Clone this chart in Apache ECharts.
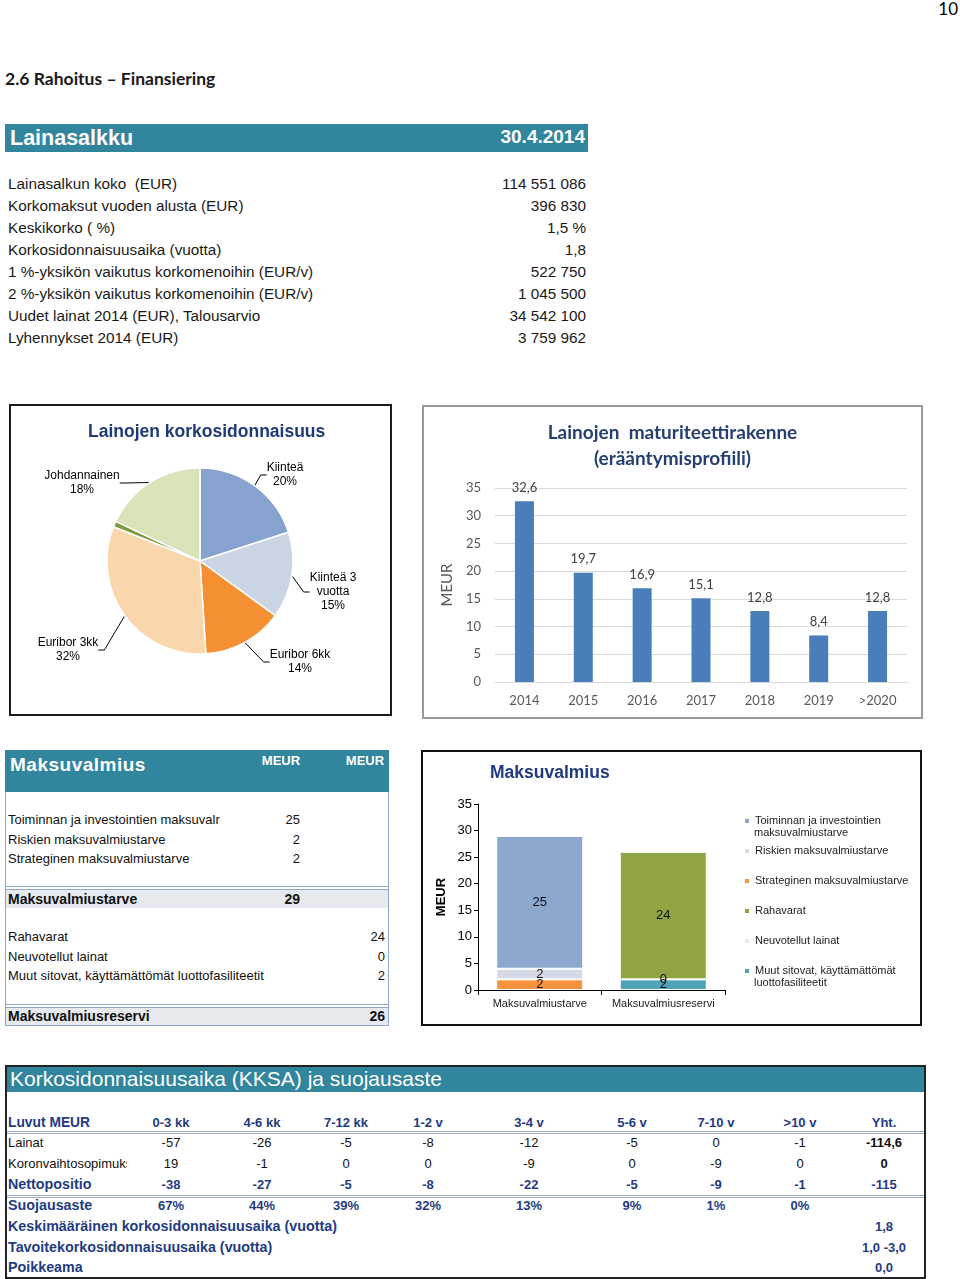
<!DOCTYPE html>
<html><head><meta charset="utf-8">
<script src="https://cdn.jsdelivr.net/npm/echarts@6/dist/echarts.min.js"></script>
<style>
body{margin:0;background:#fff;font-family:"Liberation Sans",Arial,sans-serif;color:#111;}
#page{position:relative;width:960px;height:1279px;overflow:hidden;background:#fff;}
.abs{position:absolute;white-space:pre;line-height:1.2;font-family:"Liberation Sans",Arial,sans-serif;}
</style></head><body><div id="page"></div>
<script>
// ---------- DATA ----------
const pageNumber = '10';
const sectionTitle = '2.6 Rahoitus – Finansiering';
const portfolioTitle = 'Lainasalkku';
const portfolioDate = '30.4.2014';
const portfolioLabels = ['Lainasalkun koko  (EUR)','Korkomaksut vuoden alusta (EUR)','Keskikorko ( %)','Korkosidonnaisuusaika (vuotta)','1 %-yksikön vaikutus korkomenoihin (EUR/v)','2 %-yksikön vaikutus korkomenoihin (EUR/v)','Uudet lainat 2014 (EUR), Talousarvio','Lyhennykset 2014 (EUR)'];
const portfolioValues = ['114 551 086','396 830','1,5 %','1,8','522 750','1 045 500','34 542 100','3 759 962'];

const pieTitle = 'Lainojen korkosidonnaisuus';
const pieNames = ['Kiinteä','Kiinteä 3 vuotta','Euribor 6kk','Euribor 3kk','','Johdannainen'];
const pieLabelNames = ['Kiinteä','Kiinteä 3\nvuotta','Euribor 6kk','Euribor 3kk','','Johdannainen'];
const pieValues = [20,15,14,32,1,18];

const maturityTitle = 'Lainojen  maturiteettirakenne\n(erääntymisprofiili)';
const maturityYears = ['2014','2015','2016','2017','2018','2019','>2020'];
const maturityValues = [32.6,19.7,16.9,15.1,12.8,8.4,12.8];

const liqTitle = 'Maksuvalmius';
const liqUnit = 'MEUR';
const liqNeedLabels = ['Toiminnan ja investointien maksuvalr','Riskien maksuvalmiustarve','Strateginen maksuvalmiustarve'];
const liqNeedValues = [25,2,2];
const liqNeedTotalLabel = 'Maksuvalmiustarve';
const liqNeedTotal = 29;
const liqResLabels = ['Rahavarat','Neuvotellut lainat','Muut sitovat, käyttämättömät luottofasiliteetit'];
const liqResValues = [24,0,2];
const liqResTotalLabel = 'Maksuvalmiusreservi';
const liqResTotal = 26;
const liqCategories = ['Maksuvalmiustarve','Maksuvalmiusreservi'];
const liqSeriesNames = ['Toiminnan ja investointien maksuvalmiustarve','Riskien maksuvalmiustarve','Strateginen maksuvalmiustarve','Rahavarat','Neuvotellut lainat','Muut sitovat, käyttämättömät luottofasiliteetit'];
const liqLegendLine1 = ['Toiminnan ja investointien','Riskien maksuvalmiustarve','Strateginen maksuvalmiustarve','Rahavarat','Neuvotellut lainat','Muut sitovat, käyttämättömät'];
const liqLegendLine2 = ['maksuvalmiustarve','','','','','luottofasiliteetit'];
const liqSeriesData = [[25,null],[2,null],[2,null],[null,24],[null,0],[null,2]];

const kksaTitle = 'Korkosidonnaisuusaika (KKSA) ja suojausaste';
const kksaHeaderLabel = 'Luvut MEUR';
const kksaColumns = ['0-3 kk','4-6 kk','7-12 kk','1-2 v','3-4 v','5-6 v','7-10 v','>10 v','Yht.'];
const kksaRowLabels = ['Lainat','Koronvaihtosopimukset','Nettopositio','Suojausaste'];
const kksaLainat = ['-57','-26','-5','-8','-12','-5','0','-1','-114,6'];
const kksaKoron = ['19','-1','0','0','-9','0','-9','0','0'];
const kksaNetto = ['-38','-27','-5','-8','-22','-5','-9','-1','-115'];
const kksaSuoj = ['67%','44%','39%','32%','13%','9%','1%','0%'];
const kksaSummaryLabels = ['Keskimääräinen korkosidonnaisuusaika (vuotta)','Tavoitekorkosidonnaisuusaika (vuotta)','Poikkeama'];
const kksaSummaryValues = ['1,8','1,0 -3,0','0,0'];

// ---------- LAYOUT HELPERS ----------
const TEAL = '#31859C';
const NAVY = '#1F3B83';
const page = document.getElementById('page');
function box(l,t,w,h,css){const d=document.createElement('div');d.className='abs';Object.assign(d.style,{left:l+'px',top:t+'px',width:w+'px',height:h+'px',boxSizing:'border-box'},css||{});page.appendChild(d);return d;}
function txt(x,y,s,css,align){const d=document.createElement('div');d.className='abs';d.textContent=s;Object.assign(d.style,css||{});d.style.top=y+'px';let tx='0';
  if(align==='right'){d.style.right=(960-x)+'px';} else if(align==='center'){d.style.left=x+'px';tx='-50%';} else {d.style.left=x+'px';}
  d.style.transform='translate('+tx+',-50%)';page.appendChild(d);return d;}
function inner(parent,w,h){const d=document.createElement('div');d.style.cssText='position:absolute;left:0;top:0;width:'+w+'px;height:'+h+'px;';parent.appendChild(d);return d;}

// page number & section title
txt(958,9,pageNumber,{fontFamily:'Lato',fontSize:'17px',color:'#000'},'right');
txt(5,78,sectionTitle,{fontFamily:'Lato',fontWeight:'bold',fontSize:'17.5px',color:'#1a1a1a'});

// ---------- LAINASALKKU ----------
box(5,124,583,28,{background:TEAL});
txt(10,139,portfolioTitle,{fontWeight:'bold',fontSize:'21.5px',color:'#fff'});
txt(585,137,portfolioDate,{fontWeight:'bold',fontSize:'19px',color:'#fff'},'right');
portfolioLabels.forEach((s,i)=>{
  const y=184+21.95*i;
  const d=txt(8,y,s,{fontSize:'15.3px',color:'#1a1a1a'});
  if(i===4||i===5){d.style.width='315px';d.style.overflow='hidden';}
  txt(586,y,portfolioValues[i],{fontSize:'15.3px',color:'#1a1a1a'},'right');
});

// ---------- PIE ----------
const pieBox = box(9,404,383,312,{border:'2px solid #1a1a1a'});
const pieDiv = inner(pieBox,379,308);
const pieColors = ['#86A2CE','#CAD5E4','#F49032','#F9D6AC','#7C9A3E','#D8E3B9'];
const pieLabelPos = [[274,69],[322,186],[289,256],[57,244],[0,0],[71,77]];
echarts.init(pieDiv).setOption({
  animation:false,
  title:{text:pieTitle,left:72,top:12,textStyle:{fontFamily:'Liberation Sans',fontWeight:'bold',fontSize:17.5,color:'#1F3A7A'}},
  series:[{type:'pie',center:[189,155],radius:93,startAngle:90,clockwise:true,
    data:pieValues.map((v,i)=>({value:v,name:pieNames[i],itemStyle:{color:pieColors[i]},label:{show:i!==4},labelLine:{show:i!==4}})),
    itemStyle:{borderColor:'#fff',borderWidth:1.5},
    label:{position:'outside',fontFamily:'Liberation Sans',fontSize:12,lineHeight:14,color:'#000',align:'center',
      formatter:p=>pieLabelNames[p.dataIndex]+'\n'+Math.round(p.percent)+'%'},
    labelLine:{show:true,length:10,length2:6,lineStyle:{color:'#000',width:1}},
    labelLayout:p=>{const q=pieLabelPos[p.dataIndex];return {x:q[0],y:q[1],align:'center',verticalAlign:'middle'};}
  }]
});

// ---------- MATURITY BARS ----------
const barBox = box(422,405,501,314,{border:'2px solid #9a9a9a'});
const barDiv = inner(barBox,497,310);
const comma = v=>String(v).replace('.',',');
echarts.init(barDiv).setOption({
  animation:false,
  title:{text:maturityTitle,left:'center',top:8,textStyle:{fontFamily:'Lato',fontWeight:'bold',fontSize:19,lineHeight:26,color:'#243F70'}},
  grid:{left:71,right:14,top:81,bottom:35},
  xAxis:{type:'category',data:maturityYears,axisLine:{lineStyle:{color:'#D9D9D9'}},axisTick:{show:false},
    axisLabel:{fontFamily:'Lato',fontSize:13,color:'#595959',margin:12}},
  yAxis:{type:'value',min:0,max:35,interval:5,name:'MEUR',nameLocation:'middle',nameGap:34,
    nameTextStyle:{fontFamily:'Lato',fontSize:15,color:'#595959'},
    axisLine:{show:false},axisTick:{show:false},splitLine:{lineStyle:{color:'#D9D9D9'}},
    axisLabel:{fontFamily:'Lato',fontSize:13,color:'#595959',margin:14}},
  series:[{type:'bar',data:maturityValues,barWidth:19,itemStyle:{color:'#4A7EBB'},
    label:{show:true,position:'top',distance:7,fontFamily:'Lato',fontSize:13,color:'#404040',formatter:p=>comma(p.value)}}]
});

// ---------- MAKSUVALMIUS TABLE ----------
box(5,750,384,276,{border:'1px solid #8FA8C8'});
box(5,750,384,42,{background:TEAL});
txt(10,765,liqTitle,{fontWeight:'bold',fontSize:'19px',color:'#fff',letterSpacing:'0.5px'});
txt(281,761,liqUnit,{fontWeight:'bold',fontSize:'13px',color:'#fff'},'center');
txt(365,761,liqUnit,{fontWeight:'bold',fontSize:'13px',color:'#fff'},'center');
liqNeedLabels.forEach((s,i)=>{
  const y=820+19.5*i;
  const d=txt(8,y,s,{fontSize:'13px',color:'#111'});d.style.width='212px';d.style.overflow='hidden';
  txt(300,y,String(liqNeedValues[i]),{fontSize:'13px',color:'#111'},'right');
});
box(6,886,382,4,{borderTop:'1px solid #8FA8C8',borderBottom:'1px solid #8FA8C8'});
box(6,890,382,18,{background:'#E6E9EE'});
txt(8,899,liqNeedTotalLabel,{fontWeight:'bold',fontSize:'14px',color:'#111'});
txt(300,899,String(liqNeedTotal),{fontWeight:'bold',fontSize:'14px',color:'#111'},'right');
liqResLabels.forEach((s,i)=>{
  const y=937+19.5*i;
  txt(8,y,s,{fontSize:'13px',color:'#111'});
  txt(385,y,String(liqResValues[i]),{fontSize:'13px',color:'#111'},'right');
});
box(6,1004,382,4,{borderTop:'1px solid #8FA8C8',borderBottom:'1px solid #8FA8C8'});
box(6,1008,382,17,{background:'#E6E9EE'});
txt(8,1016,liqResTotalLabel,{fontWeight:'bold',fontSize:'14px',color:'#111'});
txt(385,1016,String(liqResTotal),{fontWeight:'bold',fontSize:'14px',color:'#111'},'right');

// ---------- MAKSUVALMIUS CHART ----------
const liqBox = box(421,750,501,276,{border:'2px solid #111'});
const liqDiv = inner(liqBox,497,272);
const liqColors = ['#8DA8CE','#D3DAE6','#F4923E','#8FA443','#E8ECDA','#4FA3B8'];
const liqOrder = [5,4,3,2,1,0]; // bottom-to-top stacking
const legTextStyle = {fontFamily:'Liberation Sans',fontSize:11,lineHeight:13,color:'#222'};
echarts.init(liqDiv).setOption({
  animation:false,
  title:{text:liqTitle,left:62,top:7,textStyle:{fontFamily:'Liberation Sans',fontWeight:'bold',fontSize:17.5,color:'#1F3A7D'}},
  legend:liqSeriesNames.map((n,i)=>({data:[n],left:320,top:62.5+30*i,orient:'vertical',padding:0,icon:'rect',itemWidth:6,itemHeight:6,itemGap:4,
      formatter:name=>liqLegendLine1[liqSeriesNames.indexOf(name)],selectedMode:false,textStyle:legTextStyle})),
  graphic:liqLegendLine2.map((s,i)=>({type:'text',left:331,top:62.5+30*i+13,silent:true,
      style:{text:s,font:'11px "Liberation Sans"',fill:'#222'}})),
  grid:{left:55,top:52,bottom:34,width:247},
  xAxis:{type:'category',data:liqCategories,axisLine:{lineStyle:{color:'#000'}},
    axisTick:{show:true,length:5,lineStyle:{color:'#000'}},
    axisLabel:{interval:0,fontFamily:'Liberation Sans',fontSize:11,color:'#222',margin:8}},
  yAxis:{type:'value',min:0,max:35,interval:5,name:'MEUR',nameLocation:'middle',nameGap:30,
    nameTextStyle:{fontFamily:'Liberation Sans',fontWeight:'bold',fontSize:13,color:'#000'},
    axisLine:{show:true,lineStyle:{color:'#000'}},axisTick:{show:true,length:4,lineStyle:{color:'#000'}},splitLine:{show:false},
    axisLabel:{fontFamily:'Liberation Sans',fontSize:13,color:'#000',margin:6}},
  series:liqOrder.map(i=>({type:'bar',name:liqSeriesNames[i],stack:'liq',data:liqSeriesData[i],barWidth:87,
    itemStyle:{color:liqColors[i],borderColor:'#fff',borderWidth:1},
    label:{show:true,position:'inside',fontFamily:'Liberation Sans',fontSize:13,color:'#111'}}))
});

// ---------- KKSA TABLE ----------
box(5,1065,921,214,{border:'2px solid #222'});
box(7,1067,917,25,{background:TEAL});
txt(10,1079,kksaTitle,{fontSize:'21px',color:'#fff'});
const colX = [171,262,346,428,529,632,716,800,884];
const blue = {fontWeight:'bold',fontSize:'13px',color:NAVY};
const blueLbl = {fontWeight:'bold',fontSize:'14.3px',color:NAVY};
const plain = {fontSize:'13px',color:'#111'};
txt(8,1123,kksaHeaderLabel,{fontWeight:'bold',fontSize:'13.8px',color:NAVY});
kksaColumns.forEach((c,j)=>txt(colX[j],1123,c,blue,'center'));
box(7,1131,917,3,{borderTop:'1px solid #9AAAC6',borderBottom:'1px solid #9AAAC6'});
const rowSets = [[kksaLainat,1143,plain,plain],[kksaKoron,1164,plain,plain],[kksaNetto,1185,blue,blueLbl],[kksaSuoj,1206,blue,blueLbl]];
rowSets.forEach(([vals,y,st,lst],r)=>{
  const d=txt(8,y,kksaRowLabels[r],lst);
  if(r===1){d.style.width='119px';d.style.overflow='hidden';}
  vals.forEach((v,j)=>{
    const s = (j===8 && r<2) ? Object.assign({},st,{fontWeight:'bold'}) : st;
    txt(colX[j],y,v,s,'center');
  });
});
box(7,1195,917,3,{borderTop:'1px solid #9AAAC6',borderBottom:'1px solid #9AAAC6'});
kksaSummaryLabels.forEach((s,i)=>{
  const y=1227+20.5*i;
  txt(8,y,s,blueLbl);
  txt(colX[8],y,kksaSummaryValues[i],blue,'center');
});
</script></body></html>
